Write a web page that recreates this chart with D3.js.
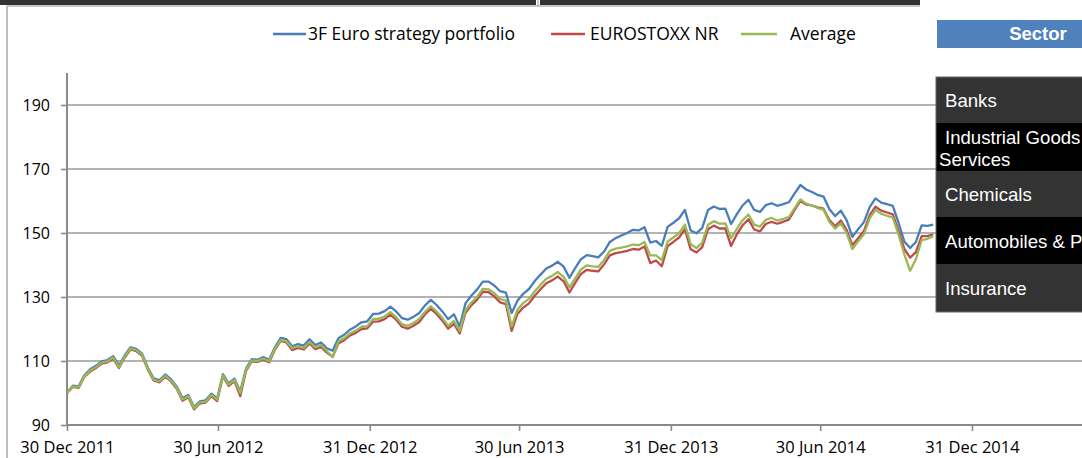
<!DOCTYPE html>
<html><head><meta charset="utf-8">
<script src="https://cdn.jsdelivr.net/npm/d3@7"></script>
<style>body{margin:0;background:#fff}svg{display:block}</style>
</head><body>
<svg id="c" width="1082" height="458"></svg>
<script>
const seriesNames = ["3F Euro strategy portfolio", "EUROSTOXX NR", "Average"];
const startDate = "2011-12-30"; // weekly observations from this date
const portfolio = [100.0,102.3,102.1,105.5,107.4,108.5,109.9,110.3,111.5,108.6,
111.8,114.3,113.8,112.3,107.9,104.6,104.0,105.8,104.3,102.0,
98.4,99.4,95.6,97.4,97.7,99.8,98.3,105.9,103.0,104.5,
100.5,107.6,110.6,110.4,111.2,110.4,114.3,117.2,116.8,114.6,
115.3,114.8,116.8,115.0,115.8,114.0,113.2,117.1,118.2,119.8,
120.8,122.1,122.4,124.7,124.8,125.6,127.0,125.5,123.4,122.9,
123.8,125.0,127.4,129.1,127.5,125.5,123.1,124.6,120.8,128.0,
130.4,132.3,134.8,134.8,133.6,131.8,131.4,125.0,128.8,131.0,
132.5,135.0,137.0,138.9,139.8,141.0,139.5,136.0,139.0,141.8,
143.1,142.8,142.4,144.2,147.2,148.4,149.2,150.0,151.0,150.8,
151.8,147.0,147.5,146.0,151.9,153.2,154.6,157.2,150.8,149.9,
151.6,157.2,158.3,157.5,157.6,152.8,155.9,158.6,160.4,157.2,
156.6,158.7,159.3,158.5,159.0,159.6,162.4,165.0,163.6,162.8,
161.9,161.4,157.5,155.3,157.0,154.0,148.8,151.2,153.4,158.1,
160.8,159.5,159.0,158.5,153.2,147.3,145.3,147.2,152.4,152.2,
152.6];
const eurostoxx = [100.0,101.9,101.6,105.0,106.7,107.8,109.2,109.6,110.8,107.8,
111.1,113.6,113.1,111.6,107.3,103.9,103.3,105.1,103.6,101.3,
97.6,98.7,94.9,96.7,97.0,99.0,97.5,105.2,102.2,103.7,
99.0,106.9,109.9,109.7,110.5,109.6,113.5,116.3,115.8,113.4,
114.1,113.6,115.5,113.7,114.4,112.6,111.3,115.5,116.5,118.0,
118.8,120.0,120.2,122.3,122.4,123.1,124.5,122.9,120.7,120.1,
121.0,122.2,124.6,126.3,124.7,122.6,120.1,121.6,118.6,125.0,
127.4,129.1,131.6,131.5,130.2,128.3,127.8,119.4,124.7,126.7,
128.0,130.4,132.4,134.3,135.2,136.4,134.9,131.4,134.4,137.2,
138.5,138.2,138.0,140.2,143.0,143.7,144.0,144.4,145.0,144.8,
145.8,140.6,141.4,139.6,145.9,147.2,148.6,151.2,144.9,143.9,
145.6,151.2,152.3,151.4,151.4,145.9,149.6,152.4,154.3,151.1,
150.5,152.8,153.5,152.9,153.5,154.2,157.2,160.0,158.9,158.6,
158.0,157.6,154.1,152.1,153.9,151.0,146.2,148.4,150.6,155.6,
158.2,157.0,156.4,155.8,150.7,145.0,142.3,144.0,149.0,149.0,
149.6];
const average = [100.0,102.1,101.8,105.2,107.0,108.1,109.5,109.9,111.1,108.0,
111.4,113.9,113.4,111.9,107.5,104.2,103.6,105.4,103.9,101.6,
98.0,99.0,95.2,97.0,97.3,99.4,97.9,105.5,102.6,104.1,
100.0,107.2,110.2,110.0,110.8,110.0,113.8,116.6,116.2,114.0,
114.6,114.1,116.0,114.2,115.0,113.1,111.2,116.1,117.1,118.6,
119.5,120.7,120.9,123.1,123.2,123.9,125.3,123.7,121.5,121.0,
121.9,123.1,125.4,127.1,125.5,123.4,121.0,122.5,119.4,125.8,
128.2,130.0,132.5,132.4,131.2,129.3,128.9,120.8,126.0,128.1,
129.4,131.8,133.8,135.7,136.6,137.8,136.3,133.0,135.8,138.6,
139.9,139.6,139.4,141.6,144.4,145.1,145.4,145.8,146.4,146.2,
147.2,143.0,143.0,141.5,147.3,148.6,150.0,152.6,146.5,145.3,
147.0,152.6,153.7,152.9,153.0,148.4,151.3,154.0,155.8,152.6,
152.0,154.1,154.7,153.9,154.4,155.0,157.8,160.5,159.2,158.6,
157.8,157.3,153.5,151.4,153.0,150.0,145.0,147.4,149.6,154.6,
157.2,156.0,155.4,154.8,149.5,143.3,138.2,141.8,147.8,148.2,
149.0];
const yTicks = [90, 110, 130, 150, 170, 190];
const xTickDates = ["2011-12-30","2012-06-30","2012-12-31","2013-06-30","2013-12-31","2014-06-30","2014-12-31"];
const xTickLabels = ["30 Dec 2011","30 Jun 2012","31 Dec 2012","30 Jun 2013","31 Dec 2013","30 Jun 2014","31 Dec 2014"];
const sectorHeader = "Sector";
const sectors = [["Banks"], ["Industrial Goods &", "Services"], ["Chemicals"], ["Automobiles & Parts"], ["Insurance"]];
const colors = ["#4a7ebb", "#be4b48", "#98b954"];

const svg = d3.select("#c");
const parse = d3.utcParse("%Y-%m-%d");
const start = parse(startDate);
const dates = portfolio.map((_, i) => d3.utcDay.offset(start, 7 * i));

const x = d3.scaleUtc().domain([parse(xTickDates[0]), parse(xTickDates[6])]).range([67, 972]);
const y = d3.scaleLinear().domain([90, 200]).range([425, 73]);
const plotRight = 1082;

// top frame bits
svg.append("rect").attr("x", 0).attr("y", 0).attr("width", 536).attr("height", 5).attr("fill", "#333");
svg.append("rect").attr("x", 540).attr("y", 0).attr("width", 380).attr("height", 5).attr("fill", "#333");
svg.append("line").attr("x1", 7).attr("x2", 920).attr("y1", 6).attr("y2", 6).attr("stroke", "#b5b5b5").attr("stroke-width", 1.5);
svg.append("line").attr("x1", 7).attr("x2", 7).attr("y1", 6).attr("y2", 458).attr("stroke", "#a8a8a8").attr("stroke-width", 1.5);
svg.append("line").attr("x1", 538).attr("x2", 538).attr("y1", 0).attr("y2", 6).attr("stroke", "#999").attr("stroke-width", 1);

// gridlines
svg.append("g").selectAll("line").data(yTicks.filter(d => d > 90)).join("line")
  .attr("x1", 67).attr("x2", plotRight).attr("y1", d => y(d)).attr("y2", d => y(d))
  .attr("stroke", "#9a9a9a").attr("stroke-width", 1.6);

// y axis
const yAxis = svg.append("g").attr("transform", "translate(67,0)")
  .call(d3.axisLeft(y).tickValues(yTicks).tickSize(6).tickPadding(6).tickFormat(d3.format("d")));
yAxis.select(".domain").remove();
yAxis.selectAll(".tick line").attr("stroke", "#8a8a8a").attr("stroke-width", 1.6);
yAxis.selectAll(".tick text").attr("font-family", "Open Sans").attr("font-size", 16).attr("fill", "#000").attr("dx", -5);
svg.append("line").attr("x1", 67).attr("x2", 67).attr("y1", y(200)).attr("y2", y(90)).attr("stroke", "#8a8a8a").attr("stroke-width", 2);

// x axis
const xAxis = svg.append("g").attr("transform", "translate(0,425)")
  .call(d3.axisBottom(x).tickValues(xTickDates.map(parse)).tickSize(6).tickPadding(7)
    .tickFormat((d, i) => xTickLabels[i]));
xAxis.select(".domain").remove();
xAxis.selectAll(".tick line").attr("stroke", "#8a8a8a").attr("stroke-width", 1.6);
xAxis.selectAll(".tick text").attr("font-family", "Open Sans").attr("font-size", 16.5).attr("fill", "#000").attr("dy", "0.88em");
svg.append("line").attr("x1", 66).attr("x2", plotRight).attr("y1", 425).attr("y2", 425).attr("stroke", "#8a8a8a").attr("stroke-width", 2);

// lines
const line = d3.line().x((d, i) => x(dates[i])).y(d => y(d));
[portfolio, eurostoxx, average].forEach((s, k) => {
  svg.append("path").datum(s).attr("d", line).attr("fill", "none")
    .attr("stroke", colors[k]).attr("stroke-width", 2.3).attr("stroke-linejoin", "round");
});

// legend
const legendLine = [[273, 306], [551, 585], [741, 777]];
const legendText = [308, 590, 790];
const lg = svg.append("g");
seriesNames.forEach((n, k) => {
  lg.append("line").attr("x1", legendLine[k][0]).attr("x2", legendLine[k][1]).attr("y1", 34).attr("y2", 34)
    .attr("stroke", colors[k]).attr("stroke-width", 2.3);
  lg.append("text").attr("x", legendText[k]).attr("y", 40).text(n)
    .attr("font-family", "Open Sans").attr("font-size", 17.5).attr("fill", "#000");
});

// sector table
svg.append("rect").attr("x", 937).attr("y", 20).attr("width", 150).attr("height", 28).attr("fill", "#4f81bd");
svg.append("text").attr("x", 1038).attr("y", 40).attr("text-anchor", "middle").text(sectorHeader)
  .attr("font-family", "Liberation Sans").attr("font-weight", "bold").attr("font-size", 18.5).attr("fill", "#fff");
const rowY = [77, 123, 171, 217, 264, 312];
sectors.forEach((s, i) => {
  svg.append("rect").attr("x", 936).attr("y", rowY[i]).attr("width", 150).attr("height", rowY[i + 1] - rowY[i])
    .attr("fill", i % 2 === 0 ? "#333333" : "#000000");
  const t = svg.append("text").attr("font-family", "Liberation Sans").attr("font-size", 18.6).attr("fill", "#fff");
  if (s.length === 1) {
    t.attr("x", 945).attr("y", (rowY[i] + rowY[i + 1]) / 2 + 7).text(s[0]);
  } else {
    t.append("tspan").attr("x", 945).attr("y", rowY[i] + 21).text(s[0]);
    t.append("tspan").attr("x", 939).attr("y", rowY[i] + 43).text(s[1]);
  }
});
svg.append("rect").attr("x", 936).attr("y", 77).attr("width", 150).attr("height", 235)
  .attr("fill", "none").attr("stroke", "#666").attr("stroke-width", 1);
</script>
</body></html>
